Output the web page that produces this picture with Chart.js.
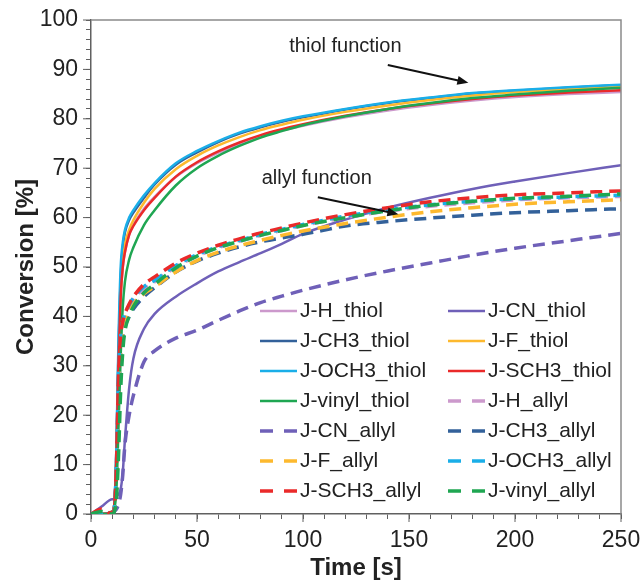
<!DOCTYPE html>
<html>
<head>
<meta charset="utf-8">
<script src="https://cdn.jsdelivr.net/npm/chart.js@4.4.0/dist/chart.umd.min.js"></script>
<style>
  body { margin: 0; background: #fff; }
</style>
</head>
<body>
<canvas id="chart" width="643" height="583"></canvas>
<script>
// time points (s) shared by all series
const times = [0, 5, 10, 11, 12, 13, 14, 15, 16, 18, 20, 25, 30, 40, 50, 60, 70, 80, 90, 100, 120, 140, 160, 180, 200, 225, 250];

// thiol conversion (%)
const hThiol     = [0, 0, 0.5, 2, 12, 31, 44, 50, 53, 56.5, 58.5, 61.8, 64.2, 68.2, 71, 73.1, 74.9, 76.4, 77.6, 78.6, 80.3, 81.7, 82.8, 83.7, 84.4, 85, 85.4];
const cnThiol    = [0, 1.5, 3, 3, 3.5, 4, 5, 8.5, 15, 25.5, 31.5, 37.5, 40.5, 44, 46.7, 49.1, 51, 52.8, 54.7, 56.7, 59.6, 62, 64, 65.8, 67.3, 69, 70.6];
const ch3Thiol   = [0, 0, 0.5, 2, 13, 34, 48, 54, 57, 59.5, 61, 64, 66.7, 70.7, 73.2, 75.3, 77, 78.3, 79.4, 80.3, 81.9, 83.2, 84.2, 85.1, 85.7, 86.3, 86.8];
const fThiol     = [0, 0, 0.5, 2, 12, 32, 45, 51, 54.5, 57.5, 59.5, 63, 65.8, 69.8, 72.5, 74.6, 76.3, 77.7, 78.8, 79.8, 81.4, 82.7, 83.8, 84.7, 85.4, 86, 86.5];
const och3Thiol  = [0, 0, 0.5, 2, 14, 36, 50, 55, 57.5, 60, 61.5, 64.5, 67, 71, 73.5, 75.5, 77.2, 78.5, 79.6, 80.5, 82, 83.3, 84.3, 85.2, 85.8, 86.4, 86.9];
const sch3Thiol  = [0, 0, 0.5, 2, 12, 31, 44, 50, 53, 56.5, 58.3, 61.5, 64, 68.3, 71.2, 73.4, 75.2, 76.7, 77.9, 78.9, 80.6, 82, 83.1, 84, 84.7, 85.3, 85.8];
const vinylThiol = [0, 0, 0, 1, 5, 18, 32, 42, 47, 51.5, 54, 58.5, 61.5, 66.5, 70, 72.5, 74.5, 76.2, 77.5, 78.7, 80.5, 82, 83.2, 84.2, 84.9, 85.7, 86.3];

// allyl conversion (%)
const hAllyl     = [0, 0, 0, 1, 8, 25, 34, 38, 40, 42, 43.5, 45.6, 47, 50, 52.2, 53.9, 55.2, 56.4, 57.4, 58.4, 60, 61.3, 62.3, 63, 63.6, 64, 64.3];
const cnAllyl    = [0, 0, 0, 0.5, 1, 2, 4, 8, 14, 20, 24, 30.8, 33, 35.6, 37.2, 39.2, 41.1, 42.8, 44.1, 45.3, 47.4, 49.2, 50.8, 52.4, 53.8, 55.3, 56.8];
const ch3Allyl   = [0, 0, 0, 1, 8, 24, 33, 36, 38, 40, 41.5, 44, 45.8, 49, 51.2, 52.8, 54.1, 55.1, 55.9, 56.6, 58.3, 59.2, 59.9, 60.5, 61, 61.4, 61.8];
const fAllyl     = [0, 0, 0, 1, 8, 25, 33, 37, 39, 41, 42.5, 44.6, 46, 49, 51.3, 53, 54.3, 55.4, 56.4, 57.3, 58.8, 60.1, 61.2, 62, 62.7, 63.2, 63.6];
const och3Allyl  = [0, 0, 0, 1, 10, 28, 36, 39, 40.5, 42.3, 43.8, 46, 47.3, 50.3, 52.5, 54.1, 55.4, 56.6, 57.6, 58.6, 60.3, 61.6, 62.6, 63.3, 63.8, 64.2, 64.5];
const sch3Allyl  = [0, 1, 0, 1, 10, 28, 36, 39, 40.5, 42.5, 44, 46.5, 48, 50.8, 52.8, 54.4, 55.7, 56.9, 57.9, 58.9, 60.6, 62, 63.2, 64, 64.6, 65, 65.4];
const vinylAllyl = [0, 0.5, 0, 0.5, 3, 12, 25, 33, 37, 40, 42, 44.8, 46.5, 49.8, 52.2, 53.9, 55.2, 56.4, 57.4, 58.4, 60, 61.4, 62.5, 63.3, 63.9, 64.3, 64.8];

const seriesNames = ['J-H_thiol', 'J-CN_thiol', 'J-CH3_thiol', 'J-F_thiol', 'J-OCH3_thiol', 'J-SCH3_thiol', 'J-vinyl_thiol',
                     'J-H_allyl', 'J-CN_allyl', 'J-CH3_allyl', 'J-F_allyl', 'J-OCH3_allyl', 'J-SCH3_allyl', 'J-vinyl_allyl'];
const seriesValues = [hThiol, cnThiol, ch3Thiol, fThiol, och3Thiol, sch3Thiol, vinylThiol,
                      hAllyl, cnAllyl, ch3Allyl, fAllyl, och3Allyl, sch3Allyl, vinylAllyl];
const colors = {
    H: '#cc99cc', CN: '#6f60b8', CH3: '#33619a', F: '#fdb92e',
    OCH3: '#1aaee8', SCH3: '#ea2a2a', vinyl: '#1fa652'
};

const FONT = '"Liberation Sans", Arial, sans-serif';

const datasets = seriesNames.map((name, i) => {
    const key = name.split('_')[0].slice(2);
    const dashed = name.endsWith('allyl');
    return {
        label: name,
        data: times.map((t, j) => ({ x: t, y: seriesValues[i][j] })),
        borderColor: colors[key],
        backgroundColor: colors[key],
        borderWidth: dashed ? 3.5 : 2.5,
        borderDash: dashed ? [12, 7] : [],
        pointRadius: 0,
        fill: false,
        cubicInterpolationMode: 'monotone',
        order: seriesNames.length - i
    };
});

// legend drawn inside the plot, two columns
const insideLegend = {
    id: 'insideLegend',
    afterDraw(chart) {
        const ctx = chart.ctx;
        const area = chart.chartArea;
        ctx.save();
        ctx.font = '21px ' + FONT;
        ctx.textBaseline = 'middle';
        ctx.fillStyle = '#222';
        chart.data.datasets.forEach((ds, i) => {
            const x = area.left + 169 + (i % 2) * 188;
            const y = area.bottom - 203 + Math.floor(i / 2) * 30;
            ctx.strokeStyle = ds.borderColor;
            ctx.lineWidth = ds.borderWidth;
            ctx.setLineDash(ds.borderDash.length ? [13, 11] : []);
            ctx.beginPath();
            ctx.moveTo(x, y);
            ctx.lineTo(x + 37, y);
            ctx.stroke();
            ctx.setLineDash([]);
            ctx.fillText(ds.label, x + 40, y);
        });
        ctx.restore();
    }
};

// labels with arrows, in data units
const notes = [
    { text: 'thiol function', tx: 120, ty: 94.6, from: [140, 90.9], to: [178, 87.3] },
    { text: 'allyl function', tx: 106.5, ty: 68, from: [107, 64.1], to: [145, 60.7] }
];

const frameAndNotes = {
    id: 'frameAndNotes',
    afterDraw(chart) {
        const ctx = chart.ctx;
        const a = chart.chartArea;
        const xs = chart.scales.x, ys = chart.scales.y;
        ctx.save();
        ctx.strokeStyle = '#8a8a8a';
        ctx.lineWidth = 1.5;
        ctx.beginPath();
        ctx.moveTo(a.left, a.top);
        ctx.lineTo(a.right, a.top);
        ctx.lineTo(a.right, a.bottom);
        ctx.stroke();

        // longer marks at the labelled ticks
        ctx.strokeStyle = '#606060';
        ctx.lineWidth = 1;
        ctx.beginPath();
        xs.ticks.forEach(t => {
            if (t.value % 50 === 0) {
                const px = xs.getPixelForValue(t.value);
                ctx.moveTo(px, a.bottom);
                ctx.lineTo(px, a.bottom + 8);
            }
        });
        ys.ticks.forEach(t => {
            if (t.value % 10 === 0) {
                const py = ys.getPixelForValue(t.value);
                ctx.moveTo(a.left, py);
                ctx.lineTo(a.left - 8, py);
            }
        });
        ctx.stroke();

        ctx.font = '20px ' + FONT;
        ctx.fillStyle = '#222';
        ctx.textAlign = 'center';
        ctx.textBaseline = 'middle';
        notes.forEach(n => {
            ctx.fillText(n.text, xs.getPixelForValue(n.tx), ys.getPixelForValue(n.ty));
            const x1 = xs.getPixelForValue(n.from[0]), y1 = ys.getPixelForValue(n.from[1]);
            const x2 = xs.getPixelForValue(n.to[0]), y2 = ys.getPixelForValue(n.to[1]);
            const ang = Math.atan2(y2 - y1, x2 - x1);
            ctx.strokeStyle = '#111';
            ctx.lineWidth = 2;
            ctx.beginPath();
            ctx.moveTo(x1, y1);
            ctx.lineTo(x2 - 8 * Math.cos(ang), y2 - 8 * Math.sin(ang));
            ctx.stroke();
            ctx.fillStyle = '#111';
            ctx.beginPath();
            ctx.moveTo(x2, y2);
            ctx.lineTo(x2 - 11 * Math.cos(ang) + 4.5 * Math.sin(ang), y2 - 11 * Math.sin(ang) - 4.5 * Math.cos(ang));
            ctx.lineTo(x2 - 11 * Math.cos(ang) - 4.5 * Math.sin(ang), y2 - 11 * Math.sin(ang) + 4.5 * Math.cos(ang));
            ctx.closePath();
            ctx.fill();
            ctx.fillStyle = '#222';
        });
        ctx.restore();
    }
};

const ctx = document.getElementById('chart').getContext('2d');
const chart = new Chart(ctx, {
    type: 'line',
    data: { datasets: datasets },
    options: {
        responsive: false,
        animation: false,
        devicePixelRatio: 1,
        layout: { padding: { top: 20, right: 22, left: 0, bottom: 0 } },
        plugins: {
            legend: { display: false },
            tooltip: { enabled: false }
        },
        scales: {
            x: {
                type: 'linear',
                min: 0,
                max: 250,
                afterFit(scale) {
                    scale.height = 69;
                    scale.paddingLeft = 0;
                    scale.paddingRight = 0;
                },
                border: { color: '#606060', width: 1.5 },
                grid: { drawOnChartArea: false, tickLength: 5, color: '#606060', lineWidth: 1 },
                ticks: {
                    stepSize: 10,
                    autoSkip: false,
                    maxRotation: 0,
                    maxTicksLimit: 40,
                    padding: 8,
                    color: '#222',
                    font: { family: FONT, size: 23 },
                    callback: v => (v % 50 === 0 ? v : '')
                },
                title: {
                    display: true,
                    text: 'Time [s]',
                    color: '#222',
                    padding: { top: 0, bottom: 0 },
                    font: { family: FONT, size: 24, weight: 'bold' }
                }
            },
            y: {
                min: 0,
                max: 100,
                afterFit(scale) {
                    scale.width = 91;
                    scale.paddingTop = 0;
                    scale.paddingBottom = 0;
                },
                border: { color: '#606060', width: 1.5 },
                grid: { drawOnChartArea: false, tickLength: 5, color: '#606060', lineWidth: 1 },
                ticks: {
                    stepSize: 2,
                    autoSkip: false,
                    maxTicksLimit: 60,
                    padding: 8,
                    color: '#222',
                    font: { family: FONT, size: 23 },
                    callback: v => (v % 10 === 0 ? v : '')
                },
                title: {
                    display: true,
                    text: 'Conversion [%]',
                    color: '#222',
                    padding: { top: 12, bottom: 0 },
                    font: { family: FONT, size: 24, weight: 'bold' }
                }
            }
        }
    },
    plugins: [insideLegend, frameAndNotes]
});
</script>
</body>
</html>
